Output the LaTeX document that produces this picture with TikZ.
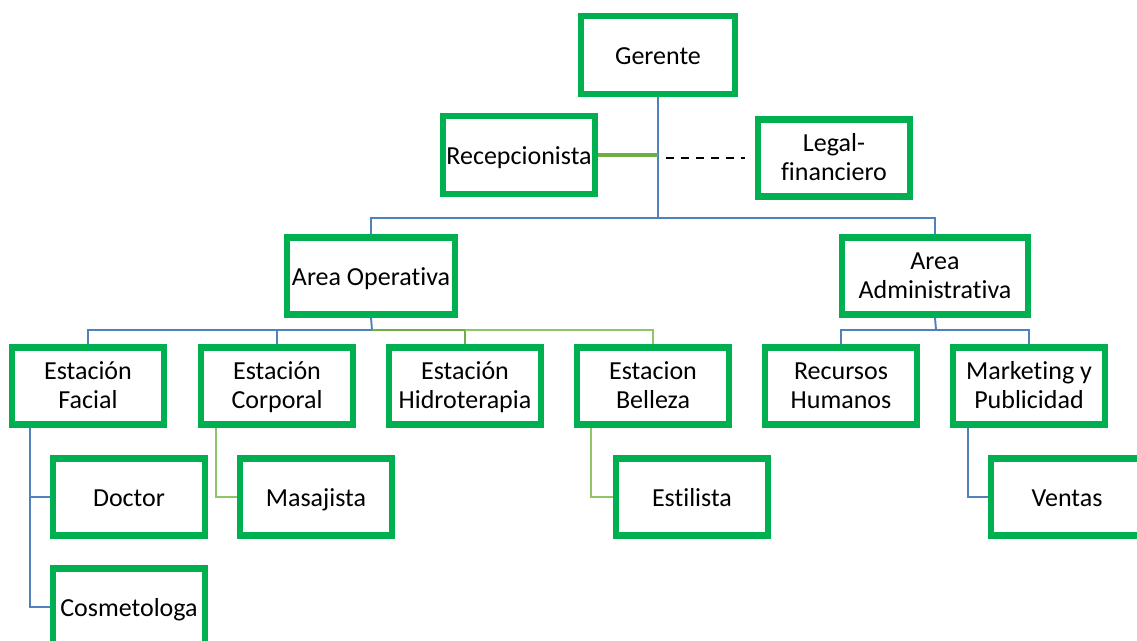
\documentclass[tikz,border=0pt]{standalone}
\usepackage{fontspec}
\setmainfont{Carlito}[Ligatures=NoCommon]
\usetikzlibrary{backgrounds}
\definecolor{boxgreen}{HTML}{00B050}
\definecolor{linkblue}{HTML}{4F81BD}
\definecolor{linkgreen}{HTML}{70AD47}
\definecolor{palegreen}{HTML}{8CC665}
\newcommand{\topstrut}{\rule{0pt}{13.7pt}}
\begin{document}
\begin{tikzpicture}[x=0.02cm,y=-0.02cm,
    unit/.style={draw=boxgreen,line width=3.6pt,fill=white,align=center,
      minimum width=3.04cm,minimum height=1.54cm,inner xsep=0pt,inner ysep=2pt,
      font=\fontsize{14.8}{16.6}\selectfont,
      execute at begin node={\rule{0pt}{16pt}},
      execute at end node={\strut}},
    blueline/.style={draw=linkblue,line width=1.1pt},
    greenline/.style={draw=linkgreen,line width=1.1pt},
    paleline/.style={draw=palegreen,line width=0.8pt},
    dashline/.style={draw=black,line width=1.3pt,dash pattern=on 4.5pt off 4pt}]
    \clip (0,0) rectangle (1137,641);
    % Top
    \node[unit,minimum width=3.08cm,minimum height=1.56cm] (ger) at (658,55) {Gerente};
    \node[unit,minimum height=1.56cm] (rec) at (519,155) {Recepcionista};
    \node[unit] (leg) at (834,158) {\topstrut Legal-\\financiero};
    % Areas
    \node[unit,minimum width=3.36cm] (ope) at (371,276) {Area Operativa};
    \node[unit,minimum width=3.72cm] (adm) at (935,276) {\topstrut Area\\Administrativa};
    % Stations
    \node[unit] (fac) at (88,386) {\topstrut Estación\\Facial};
    \node[unit] (cor) at (277,386) {\topstrut Estación\\Corporal};
    \node[unit] (hid) at (465,386) {\topstrut Estación\\Hidroterapia};
    \node[unit] (bel) at (653,386) {\topstrut Estacion\\Belleza};
    \node[unit] (rhu) at (841,386) {\topstrut Recursos\\Humanos};
    \node[unit] (mkt) at (1029,386) {\topstrut Marketing y\\Publicidad};
    % Staff
    \node[unit] (doc) at (129,497) {Doctor};
    \node[unit] (cos) at (129,607) {Cosmetologa};
    \node[unit] (mas) at (316,497) {Masajista};
    \node[unit] (sty) at (692,497) {Estilista};
    \node[unit] (ven) at (1067,497) {Ventas};
    % Links
    \coordinate (topbus) at (658,218);
    \coordinate (opebus) at (372,330);
    \coordinate (admbus) at (936,330);
    \coordinate (facx) at (30,428);
    \coordinate (corx) at (216,428);
    \coordinate (belx) at (591,428);
    \coordinate (mktx) at (968,428);
    \begin{scope}[on background layer]
      \draw[blueline] (ger.south) -- (topbus);
      \draw[blueline] (ope.north) |- (topbus) -| (adm.north);
      \draw[greenline,line width=2pt] (rec.east) -- (rec.east -| ger.south);
      \draw[dashline,shorten <=0.16cm,shorten >=0.2cm] (leg.west -| ger.south) -- (leg.west);
      \draw[blueline] (ope.south) -- (opebus);
      \draw[blueline] (fac.north) |- (opebus);
      \draw[blueline] (cor.north) -- (cor.north |- opebus);
      \draw[greenline] (opebus) -| (hid.north);
      \draw[paleline] (hid.north |- opebus) -| (bel.north);
      \draw[blueline] (adm.south) -- (admbus);
      \draw[blueline] (rhu.north) |- (admbus) -| (mkt.north);
      \draw[blueline] (facx) |- (cos.west);
      \draw[blueline] (facx |- doc.west) -- (doc.west);
      \draw[paleline] (corx) |- (mas.west);
      \draw[paleline] (belx) |- (sty.west);
      \draw[blueline] (mktx) |- (ven.west);
    \end{scope}
\end{tikzpicture}
\end{document}
